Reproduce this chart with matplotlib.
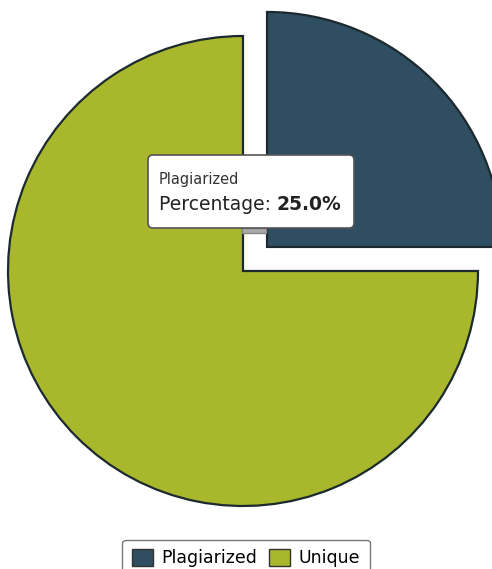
import matplotlib.pyplot as plt
from matplotlib.patches import FancyBboxPatch, Patch, Polygon

labels = ["Plagiarized", "Unique"]
shares = [25.0, 75.0]
colors = ["#2f4e61", "#a8b72c"]
hover_label = "Plagiarized"
hover_value = "25.0%"

W, H = 492, 569
fig = plt.figure(figsize=(W / 100, H / 100), dpi=100)
ax = fig.add_axes([0, 0, 1, 1])
ax.set_xlim(0, W)
ax.set_ylim(0, H)
ax.set_aspect("equal")
ax.axis("off")

# explode is an absolute offset here (radius is in pixel units)
wedges, _ = ax.pie(shares, colors=colors, startangle=90, counterclock=False,
                   center=(243, H - 271), radius=235, explode=[34, 0],
                   wedgeprops=dict(edgecolor="#1c2a30", linewidth=1.6))
ax.set_xlim(0, W)
ax.set_ylim(0, H)

# tooltip
box = FancyBboxPatch((148, H - 228), 206, 73, boxstyle="round,pad=0,rounding_size=5",
                     facecolor="white", edgecolor="#555555", linewidth=1.2, zorder=5)
ax.add_patch(box)
ax.add_patch(Polygon([[242, H - 228], [266, H - 228], [266, H - 233], [242, H - 233]],
                     closed=True, facecolor="#aaaaaa", edgecolor="#888888", zorder=4))
ax.text(159, H - 179, hover_label, fontsize=10.5, color="#333333", va="center", zorder=6)
t = ax.text(159, H - 204, "Percentage: ", fontsize=13.5, color="#222222", va="center", zorder=6)
fig.canvas.draw()
bb = t.get_window_extent()
ax.text(bb.x1, H - 204, hover_value, fontsize=13.5, fontweight="bold", color="#222222",
        va="center", zorder=6)

handles = [Patch(facecolor=c, edgecolor="#333333", label=l) for c, l in zip(colors, labels)]
leg = ax.legend(handles=handles, loc="upper center", bbox_to_anchor=(0.5, (H - 531) / H),
                ncol=2, fontsize=12.5, frameon=True, fancybox=True, handlelength=1.2,
                handleheight=1.1, handletextpad=0.5, columnspacing=0.7,
                borderpad=0.55, edgecolor="#555555")
leg.get_frame().set_linewidth(1.0)

fig.savefig("out.png", dpi=100)
